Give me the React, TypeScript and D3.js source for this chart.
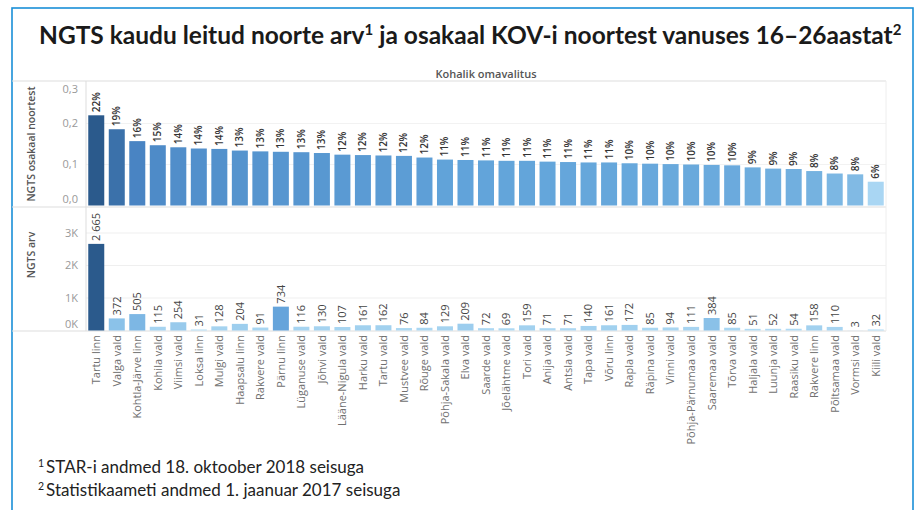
import React from "react";
import * as d3 from "d3";

const categories = [
  "Tartu linn", "Valga vald", "Kohtla-Järve linn", "Kohila vald", "Viimsi vald",
  "Loksa linn", "Mulgi vald", "Haapsalu linn", "Rakvere vald", "Pärnu linn",
  "Lüganuse vald", "Jõhvi vald", "Lääne-Nigula vald", "Harku vald", "Tartu vald",
  "Mustvee vald", "Rõuge vald", "Põhja-Sakala vald", "Elva vald", "Saarde vald",
  "Jõelähtme vald", "Tori vald", "Anija vald", "Antsla vald", "Tapa vald",
  "Võru linn", "Rapla vald", "Räpina vald", "Vinni vald", "Põhja-Pärnumaa vald",
  "Saaremaa vald", "Tõrva vald", "Haljala vald", "Luunja vald", "Raasiku vald",
  "Rakvere linn", "Põltsamaa vald", "Vormsi vald", "Kiili vald",
];

const shares = [
  0.22, 0.186, 0.157, 0.147, 0.142, 0.139, 0.138, 0.134, 0.132, 0.131,
  0.13, 0.128, 0.124, 0.123, 0.122, 0.121, 0.117, 0.112, 0.111, 0.11,
  0.109, 0.109, 0.107, 0.106, 0.105, 0.105, 0.103, 0.102, 0.101, 0.1,
  0.099, 0.098, 0.093, 0.09, 0.089, 0.084, 0.078, 0.076, 0.058,
];

const counts = [
  2665, 372, 505, 115, 254, 31, 128, 204, 91, 734,
  116, 130, 107, 161, 162, 76, 84, 129, 209, 72,
  69, 159, 71, 71, 140, 161, 172, 85, 94, 111,
  384, 85, 51, 52, 54, 158, 110, 3, 32,
];

const shareTicks = [0, 0.1, 0.2, 0.3];
const countTicks = [0, 1000, 2000, 3000];

const TITLE_MAIN = "NGTS kaudu leitud noorte arv";
const TITLE_MID = " ja osakaal KOV-i noortest vanuses 16–26aastat";
const HEADER = "Kohalik omavalitus";
const Y1_TITLE = "NGTS osakaal noortest";
const Y2_TITLE = "NGTS arv";
const NOTE1 = "STAR-i andmed 18. oktoober 2018 seisuga";
const NOTE2 = "Statistikaameti andmed 1. jaanuar 2017 seisuga";

const W = 919;
const H = 510;
const FONT = "'Open Sans', 'Noto Sans', sans-serif";

const locale = d3.formatLocale({
  decimal: ",",
  thousands: "\u00a0",
  grouping: [3],
  currency: ["", "€"],
});
const fmtCount = locale.format(",d");
const fmtTick = locale.format(".1f");
const fmtPct = (v: number) => `${Math.round(v * 100)}%`;

export default function App() {
  const left = 86;
  const right = 886;
  const top1 = 82.5;
  const bot1 = 205.5;
  const top2 = 207;
  const bot2 = 330.5;

  const x = d3.scaleBand<string>().domain(categories).range([left, right]).paddingInner(0.22).paddingOuter(0.11);
  const y1 = d3.scaleLinear().domain([0, 0.3]).range([bot1, top1]);
  const y2 = d3.scaleLinear().domain([0, 3800]).range([bot2, top2]);

  const c1 = d3
    .scaleLinear<string>()
    .domain([0.058, 0.08, 0.11, 0.16, 0.22])
    .range(["#a9d6f3", "#78b4e1", "#62a4da", "#4782c1", "#2b5a8c"])
    .interpolate(d3.interpolateRgb);
  const c2 = d3
    .scaleLinear<string>()
    .domain([3, 100, 400, 750, 2665])
    .range(["#b8e0f7", "#a8d5f1", "#88c0e8", "#63a3da", "#2b5a8c"])
    .interpolate(d3.interpolateRgb);

  const bw = x.bandwidth();
  const clampLabel = (y: number, t: number, b: number) => Math.max(t + 7, Math.min(b - 6, y));

  return (
    <svg
      width={W}
      height={H}
      viewBox={`0 0 ${W} ${H}`}
      style={{ position: "absolute", left: 0, top: 0, background: "#fff" }}
      fontFamily={FONT}
    >
      <rect x={0} y={0} width={W} height={H} fill="#fff" />
      {/* frame */}
      <rect x={12} y={8} width={901} height={H + 20} fill="none" stroke="#1a8fd8" strokeWidth={1.6} />

      {/* title */}
      <text x={39} y={44} fontFamily="Lato, 'Open Sans', sans-serif" fontWeight={700} fontSize={24.5} fill="#1a1a1a">
        {TITLE_MAIN}
        <tspan fontSize={15} dy={-9}>1</tspan>
        <tspan dy={9}>{TITLE_MID}</tspan>
        <tspan fontSize={15} dy={-9}>2</tspan>
      </text>

      {/* header */}
      <text x={(left + right) / 2} y={78} textAnchor="middle" fontSize={11} fontWeight={600} fill="#555">
        {HEADER}
      </text>

      {/* gridlines */}
      {shareTicks.slice(1, -1).map((t) => (
        <line key={`g1${t}`} x1={left} x2={right} y1={y1(t)} y2={y1(t)} stroke="#f2f2f2" />
      ))}
      {countTicks.slice(1).map((t) => (
        <line key={`g2${t}`} x1={left} x2={right} y1={y2(t)} y2={y2(t)} stroke="#efefef" />
      ))}

      {/* structural lines */}
      <line x1={12} x2={right} y1={81} y2={81} stroke="#ddd" />
      <line x1={12} x2={right} y1={207} y2={207} stroke="#ddd" />
      <line x1={12} x2={right} y1={331} y2={331} stroke="#ddd" />
      <line x1={left} x2={left} y1={81} y2={331} stroke="#ddd" />
      <line x1={right} x2={right} y1={81} y2={331} stroke="#eee" />

      {/* y axis titles */}
      <text
        transform={`translate(31,${(top1 + bot1) / 2}) rotate(-90)`}
        textAnchor="middle"
        dy="0.35em"
        fontSize={10.5}
        fontWeight={600}
        fill="#555"
      >
        {Y1_TITLE}
      </text>
      <text
        transform={`translate(31,255) rotate(-90)`}
        textAnchor="middle"
        dy="0.35em"
        fontSize={10.5}
        fontWeight={600}
        fill="#555"
      >
        {Y2_TITLE}
      </text>

      {/* y tick labels */}
      {shareTicks.map((t) => (
        <text key={`t1${t}`} x={78} y={clampLabel(y1(t), top1, bot1)} dy="0.35em" textAnchor="end" fontSize={11} fill="#999">
          {fmtTick(t)}
        </text>
      ))}
      {countTicks.map((t) => (
        <text key={`t2${t}`} x={78} y={clampLabel(y2(t), top2, bot2)} dy="0.35em" textAnchor="end" fontSize={11} fill="#999">
          {`${t / 1000}K`}
        </text>
      ))}

      {/* top bars */}
      {categories.map((c, i) => (
        <rect key={`b1${c}`} x={x(c)} y={y1(shares[i])} width={bw} height={bot1 - y1(shares[i])} fill={c1(shares[i])} />
      ))}
      {categories.map((c, i) => (
        <text
          key={`l1${c}`}
          transform={`translate(${(x(c) as number) + bw / 2},${y1(shares[i]) - 3}) rotate(-90)`}
          dy="0.35em"
          fontSize={10}
          fontWeight={600}
          fill="#333"
        >
          {fmtPct(shares[i])}
        </text>
      ))}

      {/* bottom bars */}
      {categories.map((c, i) => (
        <rect key={`b2${c}`} x={x(c)} y={y2(counts[i])} width={bw} height={bot2 - y2(counts[i])} fill={c2(counts[i])} />
      ))}
      {categories.map((c, i) => (
        <text
          key={`l2${c}`}
          transform={`translate(${(x(c) as number) + bw / 2},${y2(counts[i]) - 3}) rotate(-90)`}
          dy="0.35em"
          fontSize={11}
          fill="#444"
        >
          {fmtCount(counts[i])}
        </text>
      ))}

      {/* category labels */}
      {categories.map((c) => (
        <text
          key={`c${c}`}
          transform={`translate(${(x(c) as number) + bw / 2},335) rotate(-90)`}
          dy="0.35em"
          textAnchor="end"
          fontSize={11}
          fill="#707070"
        >
          {c}
        </text>
      ))}

      {/* footnotes */}
      <g fontFamily="Lato, 'Open Sans', sans-serif" fill="#222">
        <text x={38} y={473} fontSize={17}>
          <tspan fontSize={10.5} dy={-6}>1</tspan>
          <tspan dy={6} dx={2}>{NOTE1}</tspan>
        </text>
        <text x={38} y={496} fontSize={17}>
          <tspan fontSize={10.5} dy={-6}>2</tspan>
          <tspan dy={6} dx={2}>{NOTE2}</tspan>
        </text>
      </g>
    </svg>
  );
}
